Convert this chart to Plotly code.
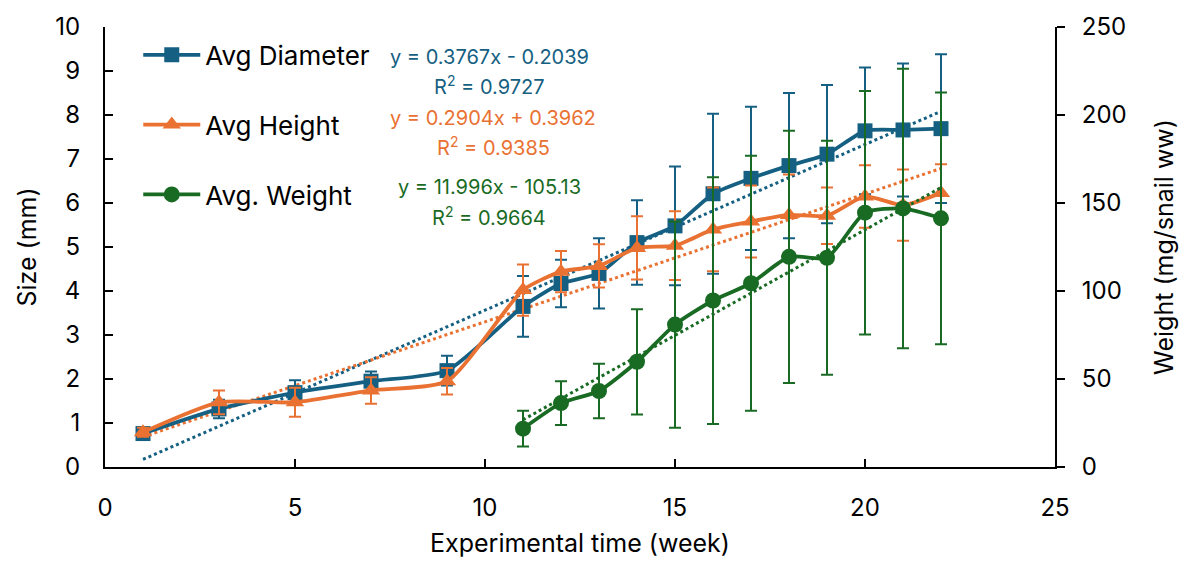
import plotly.graph_objects as go

# ---- data ----
weeks = [1, 3, 5, 7, 9, 11, 12, 13, 14, 15, 16, 17, 18, 19, 20, 21, 22]
diameter = [0.76, 1.32, 1.69, 1.95, 2.19, 3.65, 4.17, 4.40, 5.10, 5.48, 6.21, 6.56, 6.85, 7.11, 7.64, 7.66, 7.69]
diameter_err = [0.10, 0.21, 0.28, 0.22, 0.34, 0.69, 0.54, 0.80, 0.96, 1.35, 1.82, 1.63, 1.65, 1.57, 1.44, 1.51, 1.69]
height = [0.79, 1.47, 1.47, 1.74, 1.95, 4.02, 4.44, 4.57, 4.98, 5.03, 5.40, 5.58, 5.73, 5.71, 6.15, 5.95, 6.23]
height_err = [0.10, 0.27, 0.33, 0.30, 0.30, 0.58, 0.47, 0.49, 0.72, 0.78, 0.95, 0.82, 0.92, 0.64, 0.71, 0.81, 0.65]

weight_weeks = [11, 12, 13, 14, 15, 16, 17, 18, 19, 20, 21, 22]
weight = [21.8, 36.3, 43.2, 59.8, 80.9, 94.6, 104.4, 119.4, 118.9, 144.5, 146.9, 141.3]
weight_err = [10.1, 12.4, 15.5, 29.9, 58.6, 70.1, 72.4, 71.7, 66.5, 69.2, 79.4, 71.5]

# trendline coefficients (slope, intercept) as printed on the chart
diam_fit = (0.3767, -0.2039)
height_fit = (0.2904, 0.3962)
weight_fit = (11.996, -105.13)

diam_eq = ["y = 0.3767x - 0.2039", "R<sup>2</sup> = 0.9727"]
height_eq = ["y = 0.2904x + 0.3962", "R<sup>2</sup> = 0.9385"]
weight_eq = ["y = 11.996x - 105.13", "R<sup>2</sup> = 0.9664"]

BLUE = "#156082"
ORANGE = "#E97132"
GREEN = "#196B24"
FONT = "Inter"

fig = go.Figure()

# trendlines
for xs, (m, b), col, ax in [(weeks, diam_fit, BLUE, "y"), (weeks, height_fit, ORANGE, "y"),
                             (weight_weeks, weight_fit, GREEN, "y2")]:
    tx = [xs[0], xs[-1]]
    fig.add_trace(go.Scatter(x=tx, y=[m * v + b for v in tx], mode="lines",
                             line=dict(color=col, width=3, dash="dot"),
                             showlegend=False, hoverinfo="skip", yaxis=ax))

fig.add_trace(go.Scatter(
    x=weeks, y=diameter, name="Avg Diameter", mode="lines+markers",
    line=dict(color=BLUE, width=3.8, shape="spline", smoothing=0.6),
    marker=dict(symbol="square", size=15, color=BLUE),
    error_y=dict(type="data", array=diameter_err, color=BLUE, thickness=2, width=6),
    legendgroup="a"))
fig.add_trace(go.Scatter(
    x=weeks, y=height, name="Avg Height", mode="lines+markers",
    line=dict(color=ORANGE, width=3.8, shape="spline", smoothing=0.6),
    marker=dict(symbol="triangle-up", size=16, color=ORANGE),
    error_y=dict(type="data", array=height_err, color=ORANGE, thickness=2, width=6),
    legendgroup="b"))
fig.add_trace(go.Scatter(
    x=weight_weeks, y=weight, name="Avg. Weight", mode="lines+markers", yaxis="y2",
    line=dict(color=GREEN, width=3.8, shape="spline", smoothing=0.6),
    marker=dict(symbol="circle", size=16, color=GREEN),
    error_y=dict(type="data", array=weight_err, color=GREEN, thickness=2, width=6),
    legendgroup="c"))

axis_common = dict(showgrid=False, zeroline=False, showline=True, linecolor="black",
                   linewidth=2, ticklen=8, tickwidth=2, tickcolor="black",
                   tickfont=dict(size=24, color="black", family=FONT))

fig.update_layout(
    width=1186, height=565,
    margin=dict(l=105, r=129, t=21, b=98),
    paper_bgcolor="white", plot_bgcolor="white",
    font=dict(family=FONT, color="black"),
    xaxis=dict(range=[0, 25], dtick=5, ticks="inside", ticklabelstandoff=18,
               title=dict(text="Experimental time (week)", font=dict(size=25), standoff=14),
               **axis_common),
    yaxis=dict(range=[0, 10], dtick=1, ticks="inside", ticklabelstandoff=18,
               title=dict(text="Size (mm)", font=dict(size=25), standoff=12),
               **axis_common),
    yaxis2=dict(range=[0, 250], dtick=50, ticks="outside", overlaying="y", side="right",
                ticklabelstandoff=12,
                title=dict(text="Weight (mg/snail ww)", font=dict(size=25), standoff=30),
                **axis_common),
    legend=dict(x=0.035, y=0.99, xanchor="left", yanchor="top",
                font=dict(size=26, color="black"), tracegroupgap=33,
                bgcolor="rgba(0,0,0,0)", itemwidth=57),
    showlegend=True,
)

for eq, col, (x, y1, y2) in [(diam_eq, BLUE, (10.11, 9.31, 8.68)),
                             (height_eq, ORANGE, (10.22, 7.94, 7.29)),
                             (weight_eq, GREEN, (10.11, 6.37, 5.70))]:
    fig.add_annotation(x=x, y=y1, text=eq[0], showarrow=False, xref="x", yref="y",
                       font=dict(size=20, color=col))
    fig.add_annotation(x=x, y=y2, text=eq[1], showarrow=False, xref="x", yref="y",
                       font=dict(size=20, color=col))

fig.write_html("out.html")
